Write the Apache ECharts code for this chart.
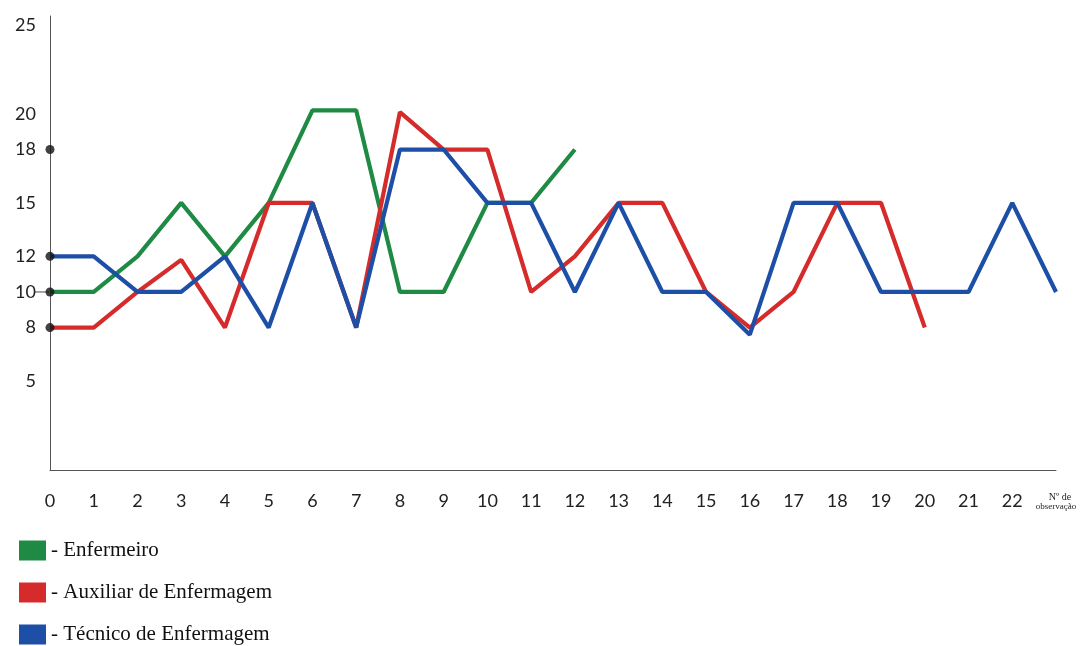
<!DOCTYPE html>
<html><head><meta charset="utf-8">
<script src="https://cdn.jsdelivr.net/npm/echarts@6/dist/echarts.min.js"></script>
<style>html,body{margin:0;padding:0;background:#fff}#c{width:1083px;height:646px}</style>
</head><body><div id="c"></div>
<script>
// ---- data ----
const xTickLabels = ['0','1','2','3','4','5','6','7','8','9','10','11','12','13','14','15','16','17','18','19','20','21','22','Nº de observação'];
const enfermeiro = [10,10,12,15,12,15,20.2,20.2,10,10,15,15,18];
const auxiliar = [8,8,10,11.8,8,15,15,8,20.1,18,18,10,12,15,15,10,8,10,15,15,8];
const tecnico = [12,12,10,10,12,8,15,8,18,18,15,15,10,15,10,10,7.6,15,15,10,10,10,15,10];
const yTickLabels = [5,8,10,12,15,18,20,25];
const axisDots = [8,10,12,18];
const dashTicks = [10];
const seriesNames = ['Enfermeiro','Auxiliar de Enfermagem','Técnico de Enfermagem'];
const seriesColors = ['#1f8a43','#d62b2b','#1d4fa6'];

const toPairs = arr => arr.map((v,i)=>[i,v]);
const chart = echarts.init(document.getElementById('c'), null, {renderer:'canvas'});
const lineSeries = [enfermeiro, auxiliar, tecnico].map((d,k)=>({
  name: seriesNames[k], type:'line', data: toPairs(d), showSymbol:false,
  lineStyle:{color:seriesColors[k], width:4.2}, itemStyle:{color:seriesColors[k]},
  z: 2+k, animation:false
}));
chart.setOption({
  animation:false,
  grid:{left:50,right:27,top:16,bottom:176,containLabel:false},
  xAxis:{type:'value',min:0,max:23,interval:1,
    axisLine:{show:true,lineStyle:{color:'#555',width:1}},
    axisTick:{show:false},splitLine:{show:false},
    axisLabel:{margin:22,color:'#222',fontSize:18,fontFamily:'Lato, "Noto Sans", sans-serif',
      formatter:v=>{const l=xTickLabels[v]; if(v===23) return '{a|Nº de}\n{b|observação}'; return l;},
      rich:{a:{fontFamily:'"Liberation Serif", serif',fontSize:10,color:'#222',align:'center',padding:[0,0,0,8]},
            b:{fontFamily:'"Liberation Serif", serif',fontSize:9,color:'#222',align:'center'}}
    }},
  yAxis:{type:'value',min:0,max:25.5,interval:1,
    axisLine:{show:true,lineStyle:{color:'#555',width:1}},
    axisTick:{show:false},splitLine:{show:false},
    axisLabel:{margin:14,color:'#222',fontSize:18,fontFamily:'Lato, "Noto Sans", sans-serif',
      formatter:v=>yTickLabels.includes(v)?String(v):''}},
  legend:{data:seriesNames,orient:'vertical',left:19,top:540,height:106,padding:0,icon:'rect',itemWidth:27,itemHeight:20,itemGap:21,
    formatter:n=>'- '+n,
    textStyle:{fontFamily:'"Liberation Serif", serif',fontSize:21,color:'#111'}},
  series:[...lineSeries,
    {type:'scatter',data:axisDots.map(v=>[0,v]),symbol:'circle',symbolSize:9,itemStyle:{color:'#111'},z:10,silent:true},
    {type:'scatter',data:dashTicks.map(v=>[0,v]),symbol:'rect',symbolSize:[14,1.2],symbolOffset:[-8,0],itemStyle:{color:'#444'},z:9,silent:true}
  ]
});
</script></body></html>
